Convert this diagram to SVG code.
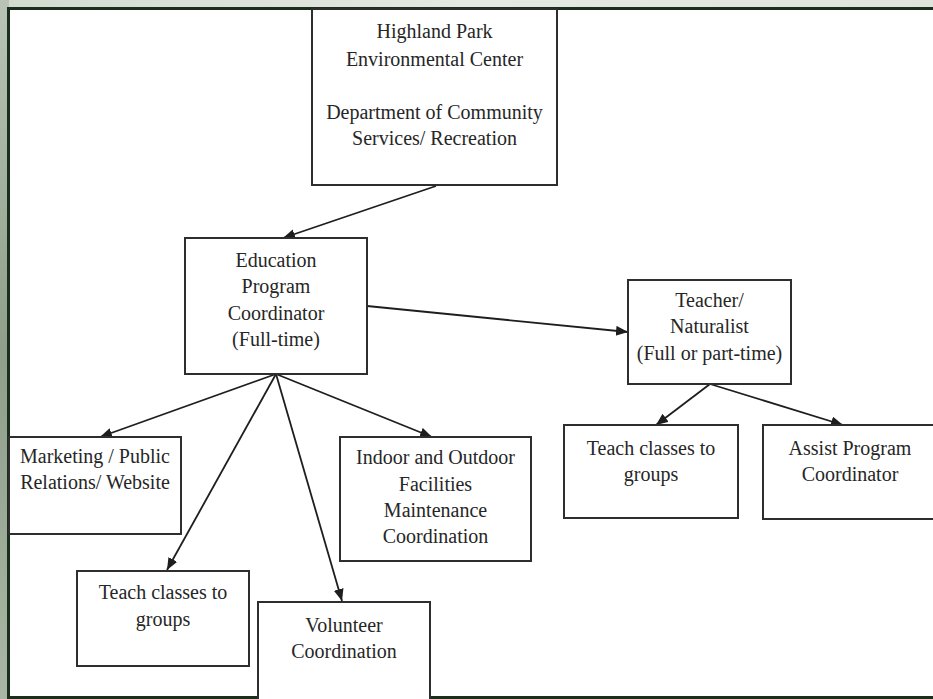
<svg xmlns="http://www.w3.org/2000/svg" width="933" height="699" viewBox="0 0 933 699">
<defs>
<linearGradient id="bgL" x1="0" y1="0" x2="0" y2="1">
<stop offset="0" stop-color="#b9c4b6"/>
<stop offset="0.5" stop-color="#8f9f8b"/>
<stop offset="1" stop-color="#a9b6a5"/>
</linearGradient>
<linearGradient id="bgT" x1="0" y1="0" x2="1" y2="0">
<stop offset="0" stop-color="#d3dbd1"/>
<stop offset="0.5" stop-color="#e4e9e2"/>
<stop offset="1" stop-color="#dfe5dc"/>
</linearGradient>
<marker id="arr" markerUnits="userSpaceOnUse" markerWidth="14" markerHeight="12" refX="12" refY="5" orient="auto">
<path d="M0,0 L12,5 L0,10 Z" fill="#1e1e1e"/>
</marker>
<style>
.box{fill:#ffffff;stroke:#2e2e2e;stroke-width:2}
.t{font-family:"Liberation Serif","Times New Roman",serif;font-size:20px;fill:#262626;text-anchor:middle}
.c{stroke:#1e1e1e;stroke-width:1.8;fill:none;marker-end:url(#arr)}
</style>
</defs>
<rect x="0" y="0" width="933" height="699" fill="url(#bgT)"/>
<rect x="0" y="0" width="9" height="699" fill="url(#bgL)"/>
<rect x="8.5" y="8.5" width="940" height="689" fill="#ffffff" stroke="#1b2d1b" stroke-width="3"/>

<g id="connectors">
<line class="c" x1="436" y1="186" x2="283" y2="238"/>
<line class="c" x1="367" y1="306" x2="628" y2="332"/>
<line class="c" x1="276" y1="374" x2="100" y2="437"/>
<line class="c" x1="276" y1="374" x2="167" y2="570"/>
<line class="c" x1="276" y1="374" x2="342" y2="601"/>
<line class="c" x1="276" y1="374" x2="432" y2="437"/>
<line class="c" x1="710" y1="384" x2="656" y2="425"/>
<line class="c" x1="710" y1="384" x2="843" y2="425"/>
</g>

<g id="node-top">
<rect class="box" x="312" y="9" width="245" height="176"/>
<text class="t" x="434.5" y="38">Highland Park</text>
<text class="t" x="434.5" y="66">Environmental Center</text>
<text class="t" x="434.5" y="119">Department of Community</text>
<text class="t" x="434.5" y="145">Services/ Recreation</text>
</g>

<g id="node-education">
<rect class="box" x="185" y="238" width="182" height="136"/>
<text class="t" x="276" y="267">Education</text>
<text class="t" x="276" y="293">Program</text>
<text class="t" x="276" y="320">Coordinator</text>
<text class="t" x="276" y="346">(Full-time)</text>
</g>

<g id="node-teacher">
<rect class="box" x="628" y="280" width="163" height="104"/>
<text class="t" x="709.5" y="307">Teacher/</text>
<text class="t" x="709.5" y="333">Naturalist</text>
<text class="t" x="709.5" y="360">(Full or part-time)</text>
</g>

<g id="node-marketing">
<rect class="box" x="9" y="437" width="172" height="97"/>
<text class="t" x="95" y="463">Marketing / Public</text>
<text class="t" x="95" y="489">Relations/ Website</text>
</g>

<g id="node-facilities">
<rect class="box" x="340" y="437" width="191" height="124"/>
<text class="t" x="435.5" y="464">Indoor and Outdoor</text>
<text class="t" x="435.5" y="491">Facilities</text>
<text class="t" x="435.5" y="517">Maintenance</text>
<text class="t" x="435.5" y="543">Coordination</text>
</g>

<g id="node-teach-left">
<rect class="box" x="77" y="571" width="172" height="95"/>
<text class="t" x="163" y="599">Teach classes to</text>
<text class="t" x="163" y="626">groups</text>
</g>

<g id="node-volunteer">
<rect class="box" x="258" y="602" width="172" height="100"/>
<text class="t" x="344" y="632">Volunteer</text>
<text class="t" x="344" y="658">Coordination</text>
</g>

<g id="node-teach-right">
<rect class="box" x="564" y="425" width="174" height="93"/>
<text class="t" x="651" y="455">Teach classes to</text>
<text class="t" x="651" y="481">groups</text>
</g>

<g id="node-assist">
<rect class="box" x="763" y="425" width="176" height="94"/>
<text class="t" x="850" y="455">Assist Program</text>
<text class="t" x="850" y="481">Coordinator</text>
</g>
</svg>
